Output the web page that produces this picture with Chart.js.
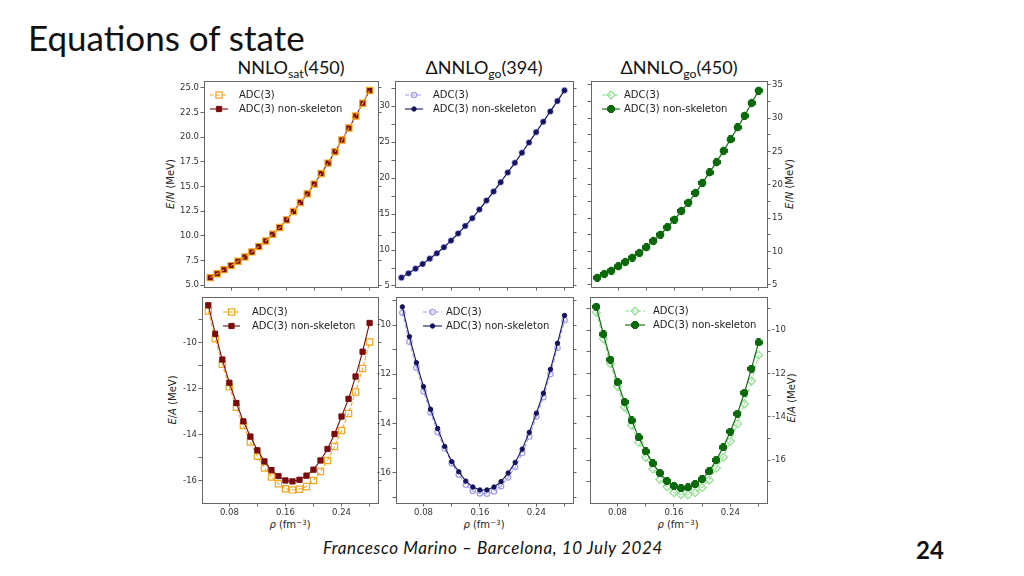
<!DOCTYPE html>
<html>
<head>
<meta charset="utf-8">
<script src="https://cdn.jsdelivr.net/npm/chart.js@4.4.0/dist/chart.umd.min.js"></script>
<style>
  html, body { margin: 0; padding: 0; background: #fff; }
  body { width: 1024px; height: 576px; position: relative; overflow: hidden; font-family: Lato, "Open Sans", sans-serif; color: #111; }
  .txt { position: absolute; white-space: nowrap; line-height: 1; }
  canvas { position: absolute; }
  #slideTitle { left: 28px; top: 20px; font-size: 35px; }
  .ptitle { font-size: 18px; transform: translateX(-50%); top: 58px; }
  .ptitle sub { font-size: 0.68em; vertical-align: -0.3em; line-height: 0; }
  .axt { font-family: "DejaVu Sans", sans-serif; font-size: 10px; color: #222; transform: translate(-50%, -50%); }
  .axt.rot { transform: translate(-50%, -50%) rotate(-90deg); }
  .axt sup { font-size: 0.72em; vertical-align: 0.45em; line-height: 0; }
  #footer { left: 323px; top: 539px; font-size: 17px; font-style: italic; letter-spacing: 0.6px; }
  #pageNo { left: 916px; top: 538px; font-size: 24px; font-weight: bold; }
</style>
</head>
<body>
<div id="slideTitle" class="txt">Equations of state</div>
<div class="txt ptitle" style="left:291px">NNLO<sub>sat</sub>(450)</div>
<div class="txt ptitle" style="left:484px">ΔNNLO<sub>go</sub>(394)</div>
<div class="txt ptitle" style="left:679px">ΔNNLO<sub>go</sub>(450)</div>

<div class="txt axt rot" style="left:171px; top:184px"><i>E</i>/<i>N</i> (MeV)</div>
<div class="txt axt rot" style="left:173px; top:400px"><i>E</i>/<i>A</i> (MeV)</div>
<div class="txt axt rot" style="left:790px; top:184px"><i>E</i>/<i>N</i> (MeV)</div>
<div class="txt axt rot" style="left:792px; top:398px"><i>E</i>/<i>A</i> (MeV)</div>
<div class="txt axt" style="left:290px; top:525px"><i>ρ</i> (fm<sup>−3</sup>)</div>
<div class="txt axt" style="left:484px; top:525px"><i>ρ</i> (fm<sup>−3</sup>)</div>
<div class="txt axt" style="left:678px; top:525px"><i>ρ</i> (fm<sup>−3</sup>)</div>

<div id="footer" class="txt">Francesco Marino – Barcelona, 10 July 2024</div>
<div id="pageNo" class="txt">24</div>

<script>
// density grid (fm^-3)
const rho = [0.05, 0.06, 0.07, 0.08, 0.09, 0.10, 0.11, 0.12, 0.13, 0.14, 0.15, 0.16,
             0.17, 0.18, 0.19, 0.20, 0.21, 0.22, 0.23, 0.24, 0.25, 0.26, 0.27, 0.28];

// pure neutron matter, E/N (MeV)
const pnmSatAdc3   = [5.75, 6.15, 6.56, 6.97, 7.41, 7.85, 8.36, 8.90, 9.47, 10.15, 10.83, 11.61,
                      12.46, 13.37, 14.25, 15.24, 16.32, 17.37, 18.53, 19.71, 20.93, 22.15, 23.44, 24.73];
const pnmSatNonSk  = [5.75, 6.15, 6.56, 6.97, 7.41, 7.85, 8.36, 8.90, 9.47, 10.15, 10.83, 11.61,
                      12.46, 13.37, 14.25, 15.24, 16.32, 17.37, 18.53, 19.71, 20.93, 22.15, 23.44, 24.73];
const pnm394Adc3   = [6.16, 6.76, 7.41, 8.06, 8.80, 9.55, 10.38, 11.31, 12.29, 13.35, 14.42, 15.63,
                      16.88, 18.13, 19.43, 20.78, 22.12, 23.52, 24.95, 26.39, 27.83, 29.27, 30.71, 32.19];
const pnm394NonSk  = [6.16, 6.76, 7.41, 8.06, 8.80, 9.55, 10.38, 11.31, 12.29, 13.35, 14.42, 15.63,
                      16.88, 18.13, 19.43, 20.78, 22.12, 23.52, 24.95, 26.39, 27.83, 29.27, 30.71, 32.19];
const pnm450Adc3   = [6.10, 6.65, 7.15, 7.80, 8.45, 9.10, 9.80, 10.65, 11.60, 12.55, 13.65, 14.80,
                      16.10, 17.35, 18.80, 20.30, 21.85, 23.40, 25.10, 26.80, 28.60, 30.35, 32.25, 34.10];
const pnm450NonSk  = [6.10, 6.65, 7.15, 7.80, 8.45, 9.10, 9.80, 10.65, 11.60, 12.55, 13.65, 14.80,
                      16.10, 17.35, 18.80, 20.30, 21.85, 23.40, 25.10, 26.80, 28.60, 30.35, 32.25, 34.10];

// symmetric nuclear matter, E/A (MeV)
const snmSatAdc3   = [-8.62, -9.83, -10.94, -11.92, -12.81, -13.60, -14.32, -14.94, -15.45, -15.84, -16.13, -16.35,
                      -16.40, -16.37, -16.25, -15.99, -15.60, -15.12, -14.51, -13.82, -13.08, -12.14, -11.12, -9.97];
const snmSatNonSk  = [-8.37, -9.61, -10.73, -11.74, -12.62, -13.42, -14.08, -14.68, -15.16, -15.54, -15.80, -15.99,
                      -16.03, -15.96, -15.78, -15.52, -15.12, -14.62, -13.97, -13.21, -12.44, -11.47, -10.39, -9.14];
const snm394Adc3   = [-9.50, -10.68, -11.73, -12.69, -13.55, -14.35, -15.01, -15.61, -16.08, -16.49, -16.74, -16.84,
                      -16.85, -16.76, -16.55, -16.19, -15.77, -15.20, -14.53, -13.72, -12.93, -11.99, -10.92, -9.80];
const snm394NonSk  = [-9.26, -10.47, -11.53, -12.50, -13.42, -14.20, -14.93, -15.55, -15.96, -16.34, -16.58, -16.70,
                      -16.70, -16.58, -16.36, -16.01, -15.58, -15.04, -14.36, -13.58, -12.77, -11.80, -10.74, -9.61];
const snm450Adc3   = [-9.18, -10.40, -11.55, -12.60, -13.55, -14.40, -15.18, -15.87, -16.41, -16.89, -17.23, -17.50,
                      -17.60, -17.60, -17.50, -17.26, -16.92, -16.37, -15.87, -15.13, -14.33, -13.40, -12.35, -11.16];
const snm450NonSk  = [-8.92, -10.19, -11.36, -12.40, -13.32, -14.17, -14.95, -15.60, -16.15, -16.60, -16.96, -17.19,
                      -17.30, -17.26, -17.11, -16.88, -16.52, -16.00, -15.41, -14.68, -13.86, -12.89, -11.78, -10.57];

const seriesLabels = ["ADC(3)", "ADC(3) non-skeleton"];

Chart.defaults.font.family = "'DejaVu Sans', sans-serif";

const spine = "#666";
const tickText = "#333";
const padL = 32, padR = 32, padT = 10, padB = 22;

// filled "plus" marker used by the dark green series
function plusMarker(color) {
  const c = document.createElement("canvas");
  c.width = 8; c.height = 8;
  const g = c.getContext("2d");
  g.fillStyle = color;
  g.fillRect(2, 0, 4, 8);
  g.fillRect(0, 2, 8, 4);
  g.fillRect(1, 1, 6, 6);
  return c;
}

const styles = {
  sat: [
    { color: "#f5a623", point: "rect", radius: 4.4, fill: false, dash: [4, 2], lw: 1.1 },
    { color: "#7a0c0c", point: "rect", radius: 3.7, fill: true, dash: [], lw: 1.1 }
  ],
  go394: [
    { color: "#a09ded", point: "circle", radius: 2.7, fill: false, dash: [4, 2], lw: 1.1 },
    { color: "#14145e", point: "circle", radius: 2.2, fill: true, dash: [], lw: 1.1 }
  ],
  go450: [
    { color: "#8fe08f", point: "rectRot", radius: 4, fill: false, dash: [4, 2], lw: 1.1 },
    { color: "#0b680b", point: plusMarker("#0b680b"), radius: 4, fill: true, dash: [], lw: 1.1 }
  ]
};

function drawMarker(ctx, ds, x, y) {
  const st = ds.pointStyle, r = ds.pointRadius;
  ctx.save();
  ctx.setLineDash([]);
  if (st instanceof HTMLCanvasElement) {
    ctx.drawImage(st, x - st.width / 2, y - st.height / 2);
    ctx.restore();
    return;
  }
  ctx.lineWidth = ds.pointBorderWidth;
  ctx.strokeStyle = ds.pointBorderColor;
  ctx.fillStyle = ds.pointBackgroundColor;
  ctx.beginPath();
  if (st === "circle") {
    ctx.arc(x, y, r, 0, Math.PI * 2);
  } else if (st === "rect") {
    const s = r * Math.SQRT1_2;
    ctx.rect(x - s, y - s, 2 * s, 2 * s);
  } else {
    ctx.moveTo(x - r, y); ctx.lineTo(x, y - r); ctx.lineTo(x + r, y); ctx.lineTo(x, y + r); ctx.closePath();
  }
  ctx.fill();
  ctx.stroke();
  ctx.restore();
}

// matplotlib-like legend drawn inside the plot area
const panelLegend = {
  id: "panelLegend",
  afterDatasetsDraw(chart, args, opts) {
    const { ctx, chartArea } = chart;
    const x0 = chartArea.left + opts.x;
    const tx = chartArea.left + opts.text;
    const dsets = chart.data.datasets;
    ctx.save();
    ctx.font = "10px 'DejaVu Sans', sans-serif";
    let tw = 0;
    dsets.forEach(d => { tw = Math.max(tw, ctx.measureText(d.label).width); });
    const top = chartArea.top + opts.y - 9;
    ctx.fillStyle = "rgba(255,255,255,0.8)";
    ctx.fillRect(x0 - 5, top, tx + tw + 5 - (x0 - 5), opts.gap + 18);
    dsets.forEach((d, i) => {
      const y = chartArea.top + opts.y + i * opts.gap;
      ctx.save();
      ctx.strokeStyle = d.borderColor;
      ctx.lineWidth = d.borderWidth;
      ctx.setLineDash(d.borderDash);
      ctx.beginPath();
      ctx.moveTo(x0, y);
      ctx.lineTo(x0 + opts.len, y);
      ctx.stroke();
      ctx.restore();
      drawMarker(ctx, d, x0 + opts.len / 2, y);
      ctx.fillStyle = "#222";
      ctx.textBaseline = "middle";
      ctx.fillText(d.label, tx, y + 0.5);
    });
    ctx.restore();
  }
};

const isMajorX = v => Math.round(v * 100) % 8 === 0;
const fmtHalf = v => (Math.abs(v % 5) < 1e-9 ? String(v) : "");
const fmtEven = v => (Math.abs(v % 2) < 1e-9 ? String(v) : "");

const panels = [
  { left: 204, top: 81, w: 174, h: 206, yMin: 4.8, yMax: 25.7, step: 2.5, fmt: v => v.toFixed(1), side: "left",
    xLabels: false, style: "sat", adcOnTop: true, data: [pnmSatAdc3, pnmSatNonSk], legend: { x: 6, len: 18, text: 35, y: 14, gap: 14 } },
  { left: 395, top: 81, w: 178, h: 206, yMin: 4.86, yMax: 33.5, step: 2.5, fmt: fmtHalf, side: "left",
    xLabels: false, style: "go394", adcOnTop: false, data: [pnm394Adc3, pnm394NonSk], legend: { x: 10, len: 18, text: 38, y: 14, gap: 14 } },
  { left: 591, top: 81, w: 176, h: 206, yMin: 4.7, yMax: 35.55, step: 2.5, fmt: fmtHalf, side: "right",
    xLabels: false, style: "go450", adcOnTop: false, data: [pnm450Adc3, pnm450NonSk], legend: { x: 11, len: 18, text: 33, y: 14, gap: 14 } },
  { left: 202, top: 297, w: 176, h: 206, yMin: -16.97, yMax: -8.01, step: 1, fmt: fmtEven, side: "left",
    xLabels: true, style: "sat", adcOnTop: false, data: [snmSatAdc3, snmSatNonSk], legend: { x: 21, len: 17, text: 50, y: 15, gap: 14 } },
  { left: 396, top: 297, w: 177, h: 206, yMin: -17.23, yMax: -8.86, step: 1, fmt: fmtEven, side: "left",
    xLabels: true, style: "go394", adcOnTop: false, data: [snm394Adc3, snm394NonSk], legend: { x: 27, len: 19, text: 50, y: 15, gap: 14 } },
  { left: 590, top: 297, w: 177, h: 206, yMin: -17.98, yMax: -8.47, step: 1, fmt: fmtEven, side: "right",
    xLabels: true, style: "go450", adcOnTop: false, data: [snm450Adc3, snm450NonSk], legend: { x: 35, len: 20, text: 63, y: 14, gap: 14 } }
];

function yAxis(p, pos) {
  const labelled = p.side === pos;
  return {
    type: "linear",
    position: pos,
    min: p.yMin,
    max: p.yMax,
    afterFit: s => { s.width = pos === "left" ? padL : padR; },
    border: { color: spine, width: 1 },
    grid: { drawOnChartArea: false, tickLength: 3.5, color: spine, lineWidth: 1 },
    ticks: {
      stepSize: p.step, includeBounds: false, autoSkip: false, display: labelled,
      padding: 1.5, color: tickText, font: { size: 8.5 }, callback: v => p.fmt(v)
    }
  };
}

panels.forEach(p => {
  const cv = document.createElement("canvas");
  cv.width = p.w + padL + padR;
  cv.height = p.h + padT + padB;
  cv.style.left = (p.left - padL) + "px";
  cv.style.top = (p.top - padT) + "px";
  document.body.appendChild(cv);

  const st = styles[p.style];
  const datasets = p.data.map((vals, i) => {
    const s = st[i];
    return {
      label: seriesLabels[i],
      data: rho.map((x, k) => ({ x: x, y: vals[k] })),
      borderColor: s.color,
      backgroundColor: s.color,
      borderWidth: s.lw,
      borderDash: s.dash,
      pointStyle: s.point,
      pointRadius: s.radius,
      pointBorderWidth: s.fill ? 1 : 1.2,
      pointBorderColor: s.color,
      pointBackgroundColor: s.fill ? s.color : "rgba(255,255,255,0)",
      tension: 0,
      order: (i === 0) === p.adcOnTop ? 0 : 1
    };
  });

  new Chart(cv, {
    type: "line",
    data: { datasets: datasets },
    plugins: [panelLegend],
    options: {
      responsive: false,
      animation: false,
      events: [],
      layout: { autoPadding: false, padding: { top: padT, left: 0, right: 0, bottom: 0 } },
      plugins: {
        legend: { display: false },
        tooltip: { enabled: false },
        panelLegend: p.legend
      },
      scales: {
        x: {
          type: "linear",
          position: "bottom",
          min: 0.041,
          max: 0.292,
          afterFit: s => { s.height = padB; },
          border: { color: spine, width: 1 },
          grid: { drawOnChartArea: false, tickLength: 3.5, color: spine, lineWidth: 1 },
          ticks: {
            stepSize: 0.04, includeBounds: false, autoSkip: false, maxRotation: 0,
            display: p.xLabels, padding: 1.5, color: tickText, font: { size: 8.5 },
            callback: v => (isMajorX(v) ? v.toFixed(2) : "")
          }
        },
        xTop: {
          type: "linear",
          position: "top",
          min: 0.041,
          max: 0.292,
          afterFit: s => { s.height = 0; },
          border: { color: spine, width: 1 },
          grid: { display: false },
          ticks: { display: false }
        },
        y: yAxis(p, "left"),
        yRight: yAxis(p, "right")
      }
    }
  });
});
</script>
</body>
</html>
